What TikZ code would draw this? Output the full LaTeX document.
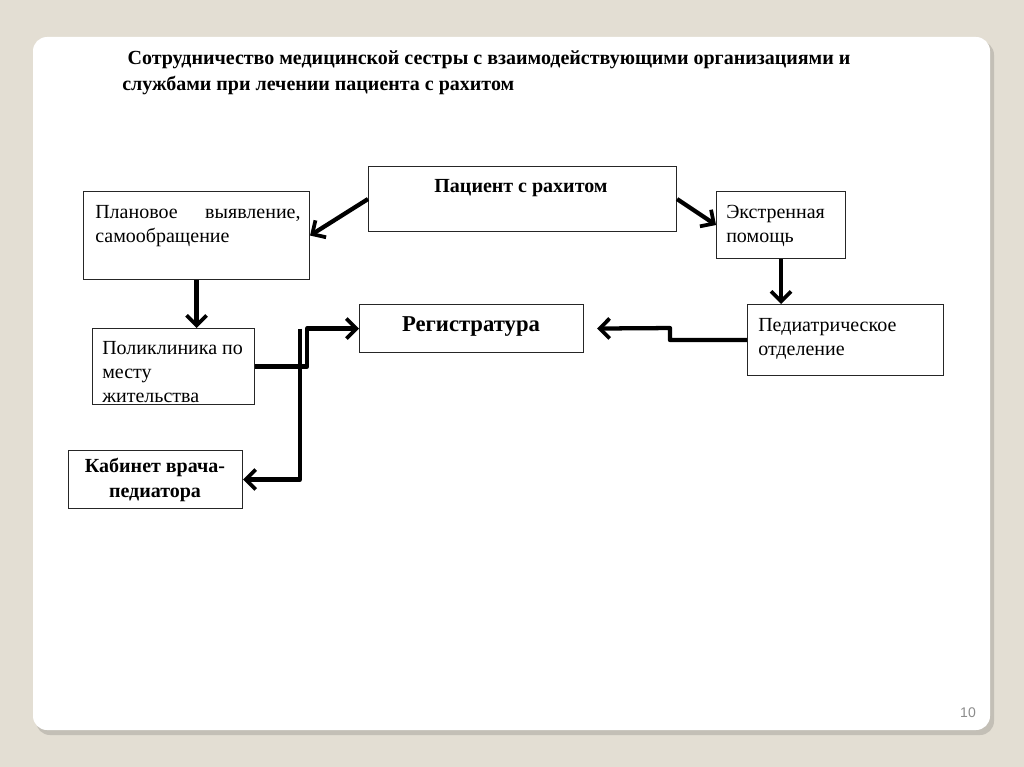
\documentclass[tikz,border=0pt]{standalone}
\usepackage{fontspec}
\setmainfont{Liberation Serif}
\newfontfamily\numfont{Liberation Sans}
\usetikzlibrary{arrows.meta,positioning}
\definecolor{slidebg}{HTML}{E3DED3}
\definecolor{slideshadow}{HTML}{C3BFB6}
\definecolor{numgray}{HTML}{8C8C8C}
\def\u{0.75pt}

\tikzset{
  box/.style={draw=black!85, line width=0.8pt, fill=white, anchor=north west, inner sep=0pt},
  txt/.style={font=\fontsize{15}{18}\selectfont, align=left, inner sep=0pt, anchor=north west},
  btxt/.style={font=\fontsize{15}{19}\selectfont\bfseries, align=center, inner sep=0pt},
  link/.style={line width=3.2pt, line join=round, -{Straight Barb[length=7.5pt,width=15pt,line width=2.8pt]}}
}

\begin{document}
\begin{tikzpicture}[x=0.75pt,y=-0.75pt]
  %%%%% background and slide %%%%%
  \useasboundingbox (0,0) rectangle (1024,767);
  \fill[slidebg] (0,0) rectangle (1024,767);
  \fill[slideshadow, rounded corners=14*\u] (36,41) rectangle (994,735);
  \fill[white, rounded corners=14*\u] (33,37) rectangle (990,730);
  \node[font=\numfont\fontsize{10.5}{12}\selectfont, text=numgray] (pagenum) at (968,713) {10};

  %%%%% title %%%%%
  \node[font=\fontsize{15}{19.5}\selectfont\bfseries, align=left, anchor=north west, inner sep=0pt] (title) at (122,50)
    {\hspace*{4pt}Сотрудничество медицинской сестры с взаимодействующими организациями и\\
     службами при лечении пациента с рахитом};

  %%%%% boxes %%%%%
  \node[box, minimum width=308*\u, minimum height=65*\u] (patient) at (368,166) {};
  \node[btxt] (patientlbl) at (521,188) {Пациент с рахитом};

  \node[box, minimum width=226*\u, minimum height=88*\u] (planned) at (83,191) {};
  \node[txt] (plannedlbl) at ([shift={(12,14)}]planned.north west)
    {\makebox[154pt][s]{Плановое выявление,}\\самообращение};

  \node[box, minimum width=129*\u, minimum height=67*\u] (urgent) at (716,191) {};
  \node[txt] (urgentlbl) at ([shift={(10,14)}]urgent.north west) {Экстренная\\помощь};

  \node[box, minimum width=224*\u, minimum height=48*\u] (registry) at (359,304) {};
  \node[font=\fontsize{17}{19}\selectfont\bfseries, inner sep=0pt] (registrylbl) at (471,327) {Регистратура};

  \node[box, minimum width=196*\u, minimum height=71*\u] (pediatric) at (747,304) {};
  \node[txt] (pediatriclbl) at ([shift={(11,14)}]pediatric.north west) {Педиатрическое\\отделение};

  \node[box, minimum width=162*\u, minimum height=76*\u] (clinic) at (92,328) {};
  \node[txt] (cliniclbl) at ([shift={(10,13)}]clinic.north west) {Поликлиника по\\месту\\жительства};

  \node[box, minimum width=174*\u, minimum height=58*\u] (cabinet) at (68,450) {};
  \node[btxt] (cabinetlbl) at (155,480) {Кабинет врача-\\педиатора};

  %%%%% connectors %%%%%
  \draw[link] (patient.west) -- (planned.east);
  \draw[link] (patient.east) -- (urgent.west);
  \draw[link] (urgent.south) -- (urgent.south |- pediatric.north);
  \draw[link] (planned.south) -- (planned.south |- clinic.north);
  \draw[link] (pediatric.west) -- ++(-77,0) -- ++(0,-12) -- ([shift={(13,0)}]registry.east);
  \draw[link] (clinic.east) -- ++(52,0) |- (registry.west);
  \draw[link] ([shift={(-59,0)}]registry.west) |- (cabinet.east);
\end{tikzpicture}
\end{document}
